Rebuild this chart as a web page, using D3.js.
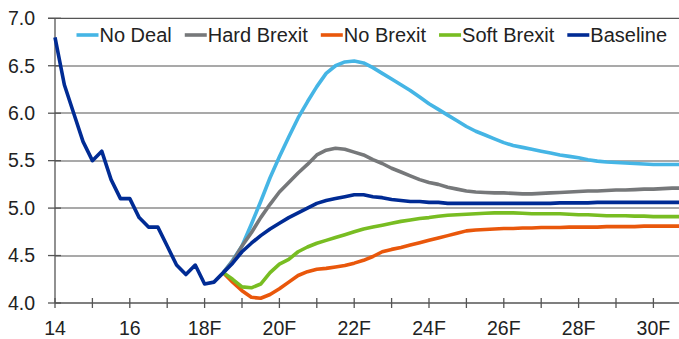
<!DOCTYPE html>
<html>
<head>
<meta charset="utf-8">
<script src="https://cdn.jsdelivr.net/npm/d3@7"></script>
<style>
  body { margin: 0; background: #fff; }
  svg { display: block; font-family: 'Liberation Sans', Arial, sans-serif; }
</style>
</head>
<body>
<svg class="brexit" width="679" height="339"></svg>
<script>
// quarterly periods, 14Q1 .. 30Q4
const periods = d3.range(14, 30.76, 0.25);
const forecastStart = 18.5;

const baseline = [
  6.80, 6.30, 6.00, 5.70, 5.50, 5.60, 5.30, 5.10, 5.10, 4.90, 4.80, 4.80,
  4.60, 4.40, 4.30, 4.40, 4.20, 4.22, 4.32, 4.42, 4.54, 4.63, 4.71, 4.78,
  4.84, 4.90, 4.95, 5.00, 5.05, 5.08, 5.10, 5.12, 5.14, 5.14, 5.12, 5.11,
  5.09, 5.08, 5.07, 5.07, 5.06, 5.06, 5.05, 5.05, 5.05, 5.05, 5.05, 5.05,
  5.05, 5.05, 5.05, 5.05, 5.05, 5.05, 5.055, 5.055, 5.055, 5.055, 5.06, 5.06,
  5.06, 5.06, 5.06, 5.06, 5.06, 5.06, 5.06, 5.06
];

// scenarios start at 18.5
const noDeal = [
  4.32, 4.45, 4.60, 4.83, 5.07, 5.32, 5.54, 5.75, 5.95, 6.12, 6.28, 6.42,
  6.50, 6.54, 6.55, 6.53, 6.48, 6.42, 6.36, 6.30, 6.24, 6.17, 6.10, 6.04,
  5.98, 5.92, 5.86, 5.81, 5.77, 5.73, 5.69, 5.66, 5.64, 5.62, 5.60, 5.58,
  5.56, 5.545, 5.53, 5.51, 5.495, 5.485, 5.48, 5.475, 5.47, 5.465, 5.46, 5.46,
  5.46, 5.46
];
const hardBrexit = [
  4.32, 4.44, 4.60, 4.74, 4.90, 5.04, 5.17, 5.27, 5.37, 5.46, 5.56, 5.61,
  5.63, 5.62, 5.59, 5.56, 5.51, 5.47, 5.42, 5.38, 5.34, 5.30, 5.27, 5.25,
  5.22, 5.20, 5.18, 5.17, 5.165, 5.16, 5.16, 5.155, 5.15, 5.15, 5.155, 5.16,
  5.165, 5.17, 5.175, 5.18, 5.18, 5.185, 5.19, 5.19, 5.195, 5.20, 5.20, 5.205,
  5.21, 5.21
];
const noBrexit = [
  4.32, 4.22, 4.13, 4.06, 4.05, 4.09, 4.15, 4.22, 4.29, 4.33, 4.355, 4.365,
  4.38, 4.395, 4.42, 4.45, 4.49, 4.54, 4.565, 4.585, 4.61, 4.635, 4.66, 4.685,
  4.71, 4.735, 4.76, 4.77, 4.775, 4.78, 4.785, 4.785, 4.79, 4.79, 4.795, 4.795,
  4.795, 4.80, 4.80, 4.80, 4.80, 4.805, 4.805, 4.805, 4.805, 4.81, 4.81, 4.81,
  4.81, 4.81
];
const softBrexit = [
  4.32, 4.25, 4.17, 4.16, 4.20, 4.32, 4.41, 4.46, 4.54, 4.59, 4.63, 4.66,
  4.69, 4.72, 4.75, 4.78, 4.80, 4.82, 4.84, 4.86, 4.875, 4.89, 4.90, 4.915,
  4.925, 4.93, 4.935, 4.94, 4.945, 4.95, 4.95, 4.95, 4.945, 4.94, 4.94, 4.94,
  4.94, 4.935, 4.93, 4.93, 4.925, 4.92, 4.92, 4.92, 4.915, 4.915, 4.91, 4.91,
  4.91, 4.91
];

const seriesNames = ['No Deal', 'Hard Brexit', 'No Brexit', 'Soft Brexit', 'Baseline'];
const seriesColors = ['#45b5e5', '#76787a', '#e9570b', '#78bd22', '#002b94'];

const yTicks = [4.0, 4.5, 5.0, 5.5, 6.0, 6.5, 7.0];
const xTicks = d3.range(14, 31);
const xTickLabels = ['14', '16', '18F', '20F', '22F', '24F', '26F', '28F', '30F'];

function drawChart(){
  const svg = d3.select('svg.brexit');
  const width = 679;
  const axisCol = '#555';

  const x = d3.scaleLinear().domain([14, 30]).range([55, 653.4]);
  const y = d3.scaleLinear().domain([4, 7]).range([303, 18.3]);

  const fcIdx = periods.indexOf(forecastStart);
  const fcPeriods = periods.slice(fcIdx);
  const seriesData = [noDeal, hardBrexit, noBrexit, softBrexit, baseline].map((vals, i) => {
    const ps = vals.length === periods.length ? periods : fcPeriods;
    return {
      name: seriesNames[i],
      color: seriesColors[i],
      points: vals.map((v, j) => [ps[j], v])
    };
  });

  // gridlines, snapped to whole pixels
  svg.append('g')
    .attr('class', 'grid')
    .attr('shape-rendering', 'crispEdges')
    .selectAll('rect')
    .data(yTicks.slice(1, -1))
    .enter()
    .append('rect')
    .attr('x', 55)
    .attr('y', d => Math.round(y(d)) - 1)
    .attr('width', width - 55)
    .attr('height', 2)
    .attr('fill', '#a9a9a9');

  // top border (7.0)
  svg.append('line')
    .attr('x1', 48).attr('x2', width)
    .attr('y1', y(7)).attr('y2', y(7))
    .attr('stroke', axisCol)
    .attr('stroke-width', 1.3);

  // y axis
  svg.append('line')
    .attr('x1', x(14)).attr('x2', x(14))
    .attr('y1', y(7)).attr('y2', y(4))
    .attr('stroke', axisCol)
    .attr('stroke-width', 1.3);
  svg.selectAll('line.ytick')
    .data(yTicks)
    .enter()
    .append('line')
    .attr('class', 'ytick')
    .attr('x1', x(14) - 7).attr('x2', x(14) + 6)
    .attr('y1', d => y(d)).attr('y2', d => y(d))
    .attr('stroke', axisCol)
    .attr('stroke-width', 1.3);
  svg.selectAll('text.ylab')
    .data(yTicks)
    .enter()
    .append('text')
    .attr('class', 'ylab')
    .attr('x', 35)
    .attr('y', d => y(d))
    .attr('dy', '0.35em')
    .text(d => d.toFixed(1))
    .style('text-anchor', 'end')
    .style('font-size', '19.5px')
    .style('fill', '#222');

  // x axis
  svg.append('line')
    .attr('x1', x(14)).attr('x2', width)
    .attr('y1', y(4)).attr('y2', y(4))
    .attr('stroke', axisCol)
    .attr('stroke-width', 1.3);
  svg.selectAll('line.xtick')
    .data(xTicks)
    .enter()
    .append('line')
    .attr('class', 'xtick')
    .attr('x1', d => x(d)).attr('x2', d => x(d))
    .attr('y1', y(4) - 5).attr('y2', y(4) + 5)
    .attr('stroke', axisCol)
    .attr('stroke-width', 1.3);
  svg.selectAll('text.xlab')
    .data(xTickLabels)
    .enter()
    .append('text')
    .attr('class', 'xlab')
    .attr('x', (d, i) => x(14 + i * 2))
    .attr('y', 335)
    .text(d => d)
    .style('text-anchor', 'middle')
    .style('font-size', '19.5px')
    .style('fill', '#222');

  // lines
  const line = d3.line()
    .x(d => x(d[0]))
    .y(d => y(d[1]));

  svg.selectAll('path.series')
    .data(seriesData)
    .enter()
    .append('path')
    .attr('class', 'series')
    .attr('d', d => line(d.points))
    .attr('fill', 'none')
    .attr('stroke', d => d.color)
    .attr('stroke-width', 3.6)
    .attr('stroke-linejoin', 'round');

  // legend
  let lx = 76.5;
  seriesData.forEach(s => {
    svg.append('line')
      .attr('x1', lx).attr('x2', lx + 22)
      .attr('y1', 35).attr('y2', 35)
      .attr('stroke', s.color)
      .attr('stroke-width', 3.6);
    const t = svg.append('text')
      .attr('x', lx + 23)
      .attr('y', 41.7)
      .text(s.name)
      .style('font-size', '20px')
      .style('fill', '#222');
    lx += 23 + t.node().getComputedTextLength() + 13;
  });
}

drawChart();
</script>
</body>
</html>
